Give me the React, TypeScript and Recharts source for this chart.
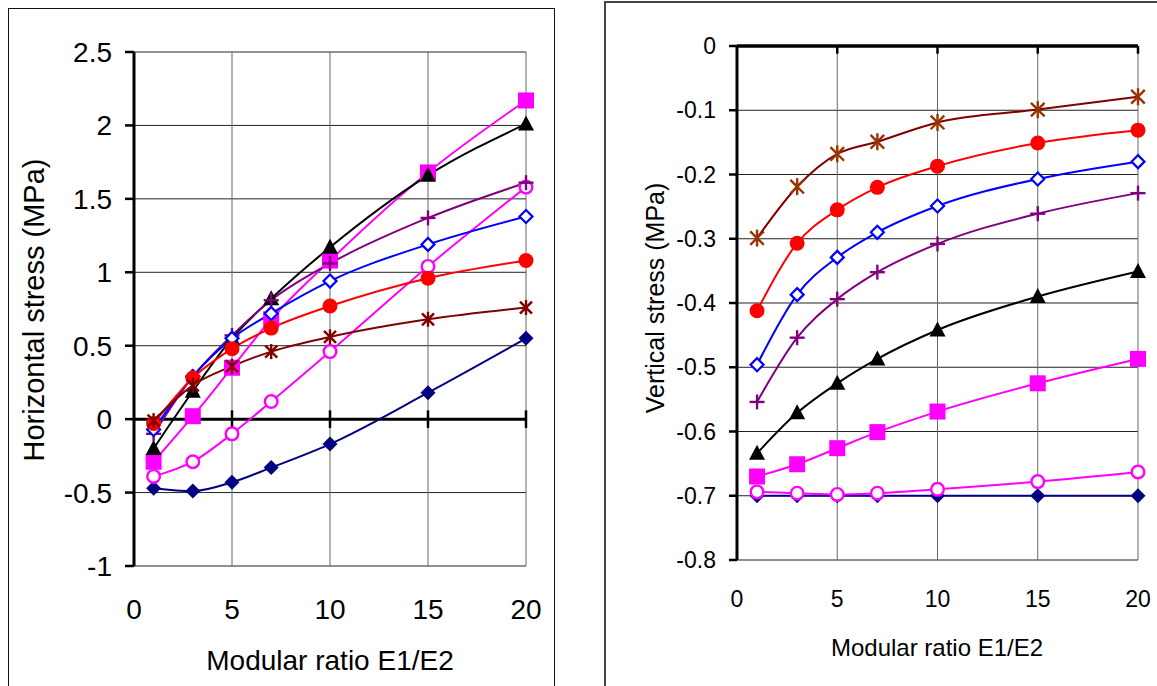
import React from 'react'
import { LineChart, Line, XAxis, YAxis, CartesianGrid, ReferenceLine, Label } from 'recharts'

// modular ratio E1/E2 (x for both panels)
const ratio = [1, 3, 5, 7, 10, 15, 20]
const xTicks = [0, 5, 10, 15, 20]
const hTicks = [-1, -0.5, 0, 0.5, 1, 1.5, 2, 2.5]
const vTicks = [-0.8, -0.7, -0.6, -0.5, -0.4, -0.3, -0.2, -0.1, 0]

// horizontal stress (MPa)
const hNavy = [-0.47, -0.49, -0.43, -0.33, -0.17, 0.18, 0.55]
const hOpenCircle = [-0.39, -0.29, -0.1, 0.12, 0.46, 1.04, 1.58]
const hSquare = [-0.29, 0.02, 0.35, 0.68, 1.08, 1.68, 2.17]
const hTriangle = [-0.2, 0.19, 0.55, 0.82, 1.17, 1.66, 2.01]
const hPlus = [-0.1, 0.29, 0.57, 0.81, 1.06, 1.37, 1.61]
const hOpenDiamond = [-0.07, 0.29, 0.55, 0.72, 0.94, 1.19, 1.38]
const hRed = [-0.03, 0.28, 0.48, 0.62, 0.77, 0.96, 1.08]
const hStar = [-0.01, 0.23, 0.36, 0.46, 0.56, 0.68, 0.76]

// vertical stress (MPa)
const vNavy = [-0.7, -0.7, -0.7, -0.7, -0.7, -0.7, -0.7]
const vOpenCircle = [-0.694, -0.696, -0.698, -0.696, -0.69, -0.678, -0.663]
const vSquare = [-0.67, -0.651, -0.626, -0.601, -0.569, -0.525, -0.487]
const vTriangle = [-0.634, -0.571, -0.525, -0.487, -0.442, -0.39, -0.351]
const vPlus = [-0.554, -0.454, -0.394, -0.352, -0.308, -0.261, -0.229]
const vOpenDiamond = [-0.496, -0.387, -0.329, -0.29, -0.249, -0.207, -0.18]
const vRed = [-0.412, -0.307, -0.255, -0.22, -0.187, -0.151, -0.131]
const vStar = [-0.299, -0.219, -0.168, -0.149, -0.119, -0.099, -0.079]

const FONT = '"Liberation Sans", Arial, sans-serif'

type Shape = 'diamond' | 'diamondOpen' | 'circle' | 'circleOpen' | 'square' | 'triangle' | 'plus' | 'star'

interface SeriesDef { key: string; shape: Shape; line: string; marker: string }

const SERIES: SeriesDef[] = [
  { key: 'navy', shape: 'diamond', line: '#000080', marker: '#000080' },
  { key: 'openCircle', shape: 'circleOpen', line: '#FF00FF', marker: '#FF00FF' },
  { key: 'square', shape: 'square', line: '#FF00FF', marker: '#FF00FF' },
  { key: 'triangle', shape: 'triangle', line: '#000000', marker: '#000000' },
  { key: 'plus', shape: 'plus', line: '#800080', marker: '#800080' },
  { key: 'openDiamond', shape: 'diamondOpen', line: '#0000FF', marker: '#0000FF' },
  { key: 'red', shape: 'circle', line: '#FF0000', marker: '#FF0000' },
  { key: 'star', shape: 'star', line: '#800000', marker: '#800000' },
]

const hData = ratio.map((x, i) => ({
  x, navy: hNavy[i], openCircle: hOpenCircle[i], square: hSquare[i], triangle: hTriangle[i],
  plus: hPlus[i], openDiamond: hOpenDiamond[i], red: hRed[i], star: hStar[i],
}))

const vData = ratio.map((x, i) => ({
  x, navy: vNavy[i], openCircle: vOpenCircle[i], square: vSquare[i], triangle: vTriangle[i],
  plus: vPlus[i], openDiamond: vOpenDiamond[i], red: vRed[i], star: vStar[i],
}))

function Marker({ cx, cy, shape, color, s }: { cx?: number; cy?: number; shape: Shape; color: string; s: number }) {
  if (cx == null || cy == null || isNaN(cx) || isNaN(cy)) return null
  switch (shape) {
    case 'diamond':
      return <polygon points={`${cx},${cy - s} ${cx + s},${cy} ${cx},${cy + s} ${cx - s},${cy}`} fill={color} />
    case 'diamondOpen':
      return <polygon points={`${cx},${cy - s + 1} ${cx + s - 1},${cy} ${cx},${cy + s - 1} ${cx - s + 1},${cy}`} fill="#fff" stroke={color} strokeWidth={2.2} />
    case 'circle':
      return <circle cx={cx} cy={cy} r={s} fill={color} />
    case 'circleOpen':
      return <circle cx={cx} cy={cy} r={s - 1.2} fill="#fff" stroke={color} strokeWidth={2.4} />
    case 'square':
      return <rect x={cx - s} y={cy - s} width={s * 2} height={s * 2} fill={color} />
    case 'triangle':
      return <polygon points={`${cx},${cy - s - 1} ${cx + s + 0.5},${cy + s - 1} ${cx - s - 0.5},${cy + s - 1}`} fill={color} />
    case 'plus':
      return (
        <g stroke={color} strokeWidth={2.4}>
          <line x1={cx - s} y1={cy} x2={cx + s} y2={cy} />
          <line x1={cx} y1={cy - s} x2={cx} y2={cy + s} />
        </g>
      )
    case 'star': {
      const d = s * 0.8
      return (
        <g stroke={color} strokeWidth={2.4}>
          <line x1={cx - d} y1={cy - d} x2={cx + d} y2={cy + d} />
          <line x1={cx - d} y1={cy + d} x2={cx + d} y2={cy - d} />
          <line x1={cx} y1={cy - s} x2={cx} y2={cy + s} />
        </g>
      )
    }
  }
  return null
}

const dotFor = (shape: Shape, color: string, s: number) =>
  // eslint-disable-next-line @typescript-eslint/no-explicit-any
  (props: any) => <Marker key={`${shape}-${props.index}`} cx={props.cx} cy={props.cy} shape={shape} color={color} s={s} />

const yTitle = (text: string, x: number, y: number, size: number) => () => (
  <text x={x} y={y} transform={`rotate(-90 ${x} ${y})`} textAnchor="middle" dominantBaseline="central"
    fontSize={size} fontFamily={FONT} fill="#000">{text}</text>
)

const xTitle = (text: string, x: number, y: number, size: number) => () => (
  <text x={x} y={y} textAnchor="middle" fontSize={size} fontFamily={FONT} fill="#000">{text}</text>
)

function HorizontalChart() {
  return (
    <LineChart width={560} height={686} data={hData} margin={{ top: 52, right: 34, bottom: 0, left: 0 }}>
      <CartesianGrid vertical={false} stroke="#222" strokeWidth={1} />
      <CartesianGrid horizontal={false} stroke="#666" strokeWidth={1} />
      <XAxis type="number" dataKey="x" domain={[0, 20]} ticks={xTicks} interval={0} height={120}
        axisLine={false} tickLine={false} tickSize={0} tickMargin={33}
        tick={{ fontSize: 28, fill: '#000', fontFamily: FONT }}>
        <Label content={xTitle('Modular ratio E1/E2', 330, 670, 28)} />
      </XAxis>
      <YAxis type="number" domain={[-1, 2.5]} ticks={hTicks} interval={0} width={134}
        axisLine={{ stroke: '#000', strokeWidth: 3 }} tickLine={{ stroke: '#000', strokeWidth: 2.5 }}
        tickSize={9} tickMargin={13} tick={{ fontSize: 28, fill: '#000', fontFamily: FONT }}>
        <Label content={yTitle('Horizontal stress (MPa)', 34, 310, 29)} />
      </YAxis>
      <ReferenceLine y={0} stroke="#000" strokeWidth={3} />
      {xTicks.filter(t => t > 0).map(t => (
        <ReferenceLine key={t} segment={[{ x: t, y: -0.06 }, { x: t, y: 0.06 }]} stroke="#000" strokeWidth={2.5} />
      ))}
      {SERIES.map(s => (
        <Line key={s.key} type="monotone" dataKey={s.key} stroke={s.line} strokeWidth={2}
          dot={dotFor(s.shape, s.marker, s.shape === 'square' ? 8 : 7.5)}
          activeDot={false} isAnimationActive={false} />
      ))}
    </LineChart>
  )
}

function VerticalChart() {
  return (
    <LineChart width={557} height={686} data={vData} margin={{ top: 46, right: 19, bottom: 0, left: 0 }}>
      <CartesianGrid vertical={false} stroke="#222" strokeWidth={1} />
      <CartesianGrid horizontal={false} stroke="#666" strokeWidth={1} />
      <XAxis type="number" dataKey="x" domain={[0, 20]} ticks={xTicks} interval={0} height={126}
        axisLine={false} tickLine={false} tickSize={0} tickMargin={31}
        tick={{ fontSize: 23, fill: '#000', fontFamily: FONT }}>
        <Label content={xTitle('Modular ratio E1/E2', 337, 656, 24)} />
      </XAxis>
      <YAxis type="number" domain={[-0.8, 0]} ticks={vTicks} interval={0} width={137}
        axisLine={{ stroke: '#000', strokeWidth: 3 }} tickLine={{ stroke: '#000', strokeWidth: 2.5 }}
        tickSize={8} tickMargin={13} tickFormatter={(v: number) => (v === 0 ? '0' : v.toFixed(1))}
        tick={{ fontSize: 23, fill: '#000', fontFamily: FONT }}>
        <Label content={yTitle('Vertical stress (MPa)', 55, 298, 25)} />
      </YAxis>
      <ReferenceLine y={0} stroke="#000" strokeWidth={3.5} />
      {xTicks.filter(t => t > 0).map(t => (
        <ReferenceLine key={t} segment={[{ x: t, y: 0 }, { x: t, y: -0.012 }]} stroke="#000" strokeWidth={2.5} />
      ))}
      {SERIES.map(s => (
        <Line key={s.key} type="monotone" dataKey={s.key} stroke={s.line} strokeWidth={2}
          dot={dotFor(s.shape, s.key === 'star' ? '#993300' : s.marker, s.shape === 'square' ? 8 : s.shape === 'star' ? 8.5 : 7.5)}
          activeDot={false} isAnimationActive={false} />
      ))}
    </LineChart>
  )
}

export default function App() {
  return (
    <div style={{ position: 'absolute', left: 0, top: 0, width: 1157, height: 686, overflow: 'hidden', background: '#fff' }}>
      <div style={{ position: 'absolute', left: 8, top: 8, width: 545, height: 720, border: '1.5px solid #111' }} />
      <div style={{ position: 'absolute', left: 604, top: 1, width: 600, height: 720, border: '2px solid #444' }} />
      <div style={{ position: 'absolute', left: 0, top: 0 }}>
        <HorizontalChart />
      </div>
      <div style={{ position: 'absolute', left: 600, top: 0 }}>
        <VerticalChart />
      </div>
    </div>
  )
}
